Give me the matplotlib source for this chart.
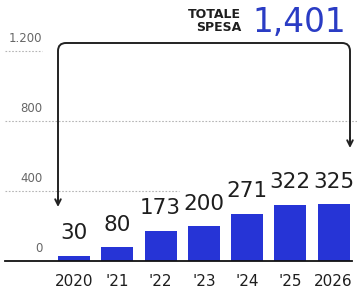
import matplotlib.pyplot as plt
from matplotlib.path import Path
from matplotlib.patches import PathPatch

# data
years = ['2020', "'21", "'22", "'23", "'24", "'25", '2026']
spesa = [30, 80, 173, 200, 271, 322, 325]
totale = '1,401'
y_ticks = [0, 400, 800, 1200]
y_tick_labels = ['0', '400', '800', '1.200']

bar_color = '#2634d6'
num_color = '#2a3cc4'
text_color = '#1e1e1e'

fig = plt.figure(figsize=(3.57, 2.92), dpi=100)
ax = fig.add_axes([0, 0, 1, 1])
ax.set_xlim(-1.71, 6.54)
ax.set_ylim(-177, 1491)
ax.axis('off')

x = list(range(len(years)))
bars = ax.bar(x, spesa, width=0.74, color=bar_color, zorder=3)

# value labels above the bars
for xi, v in zip(x, spesa):
    ax.annotate(str(v), (xi, v), xytext=(0, 9), textcoords='offset points',
                ha='center', va='bottom', fontsize=15.5, color=text_color)

# year labels under the baseline
for xi, lab in zip(x, years):
    ax.annotate(lab, (xi, 0), xytext=(0, -9.5), textcoords='offset points',
                ha='center', va='top', fontsize=11, color=text_color)

# dotted gridlines + labels sitting above them
grid_span = {400: (0.014, 0.5), 800: (0.014, 1.0), 1200: (0.014, 0.118)}
ytr = ax.get_yaxis_transform()
for val, lab in zip(y_ticks, y_tick_labels):
    if val in grid_span:
        x0, x1 = grid_span[val]
        ax.axhline(val, x0, x1, color='#b5b5b5', lw=0.8, ls=(0, (1.5, 1.5)), zorder=1)
    ax.annotate(lab, (0.118, val), xycoords=ytr, xytext=(0, 4), textcoords='offset points',
                ha='right', va='bottom', fontsize=8.5, color='#666666')

# baseline
ax.axhline(0, 0.014, 0.986, color='#111111', lw=1.3, zorder=4)

# bracket with arrows, drawn in pixel coords on an overlay
ov = fig.add_axes([0, 0, 1, 1], facecolor='none')
ov.set_xlim(0, 357)
ov.set_ylim(292, 0)
ov.axis('off')

r = 8
xl, xr, yt = 58, 350, 43
verts = [(xl, 205), (xl, yt + r), (xl, yt), (xl + r, yt),
         (xr - r, yt), (xr, yt), (xr, yt + r), (xr, 146)]
codes = [Path.MOVETO, Path.LINETO, Path.CURVE3, Path.CURVE3,
         Path.LINETO, Path.CURVE3, Path.CURVE3, Path.LINETO]
ov.add_patch(PathPatch(Path(verts, codes), fill=False, ec='#222222', lw=1.4))
for xa, ya in [(xl, 207), (xr, 148)]:
    ov.annotate('', (xa, ya), xytext=(xa, ya - 10),
                arrowprops=dict(arrowstyle='->', color='#222222', lw=1.4,
                                mutation_scale=10, shrinkA=0, shrinkB=0))

# total header
ov.text(241, 21, 'TOTALE\nSPESA', ha='right', va='center', fontsize=9,
        color=text_color, weight='bold', linespacing=0.95, multialignment='right')
ov.text(346, 22, totale, ha='right', va='center', fontsize=23.5,
        color=num_color)

fig.savefig('out.png', dpi=100)
